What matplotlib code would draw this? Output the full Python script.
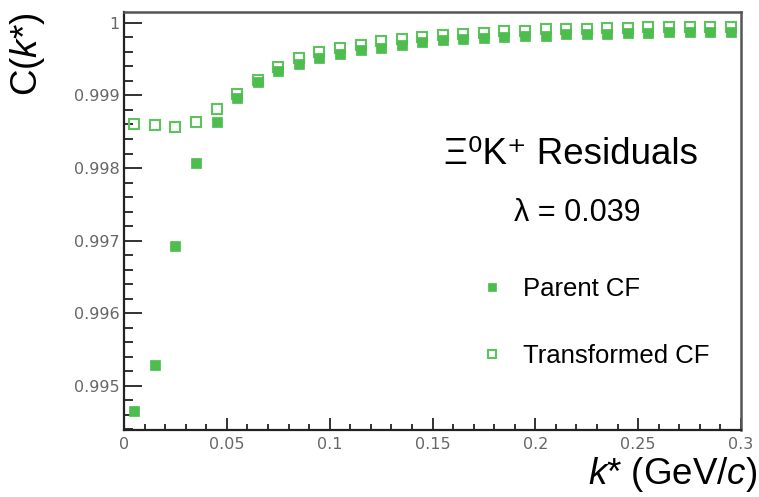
import numpy as np
import matplotlib
matplotlib.use("Agg")
import matplotlib.pyplot as plt
from matplotlib.ticker import MultipleLocator, FixedLocator

plt.rcParams["font.family"] = ["Liberation Sans", "DejaVu Sans"]
plt.rcParams["mathtext.fontset"] = "custom"
plt.rcParams["mathtext.rm"] = "Liberation Sans"
plt.rcParams["mathtext.it"] = "Liberation Sans:italic"

# bin centres in k* (GeV/c)
kstar = [0.005, 0.015, 0.025, 0.035, 0.045, 0.055, 0.065, 0.075, 0.085, 0.095,
         0.105, 0.115, 0.125, 0.135, 0.145, 0.155, 0.165, 0.175, 0.185, 0.195,
         0.205, 0.215, 0.225, 0.235, 0.245, 0.255, 0.265, 0.275, 0.285, 0.295]

parent_cf = [0.99465, 0.99529, 0.99693, 0.99807, 0.99863, 0.99897, 0.99919, 0.99934,
             0.99944, 0.99951, 0.99957, 0.99963, 0.99966, 0.99970, 0.99973, 0.99976,
             0.99978, 0.99979, 0.99981, 0.99982, 0.99982, 0.99984, 0.99984, 0.99985,
             0.99986, 0.99986, 0.99987, 0.99987, 0.99988, 0.99988]

transformed_cf = [0.99860, 0.99859, 0.99856, 0.99863, 0.99882, 0.99902, 0.99921, 0.99939,
                  0.99951, 0.99960, 0.99966, 0.99970, 0.99975, 0.99978, 0.99981, 0.99983,
                  0.99985, 0.99986, 0.99989, 0.99989, 0.99991, 0.99992, 0.99992, 0.99993,
                  0.99993, 0.99994, 0.99994, 0.99994, 0.99995, 0.99995]

x_ticks = [0, 0.05, 0.1, 0.15, 0.2, 0.25, 0.3]
x_tick_labels = ["0", "0.05", "0.1", "0.15", "0.2", "0.25", "0.3"]
y_ticks = [0.995, 0.996, 0.997, 0.998, 0.999, 1.0]
y_tick_labels = ["0.995", "0.996", "0.997", "0.998", "0.999", "1"]

pair_label = "\u039e\u2070K\u207a Residuals"
lambda_label = "\u03bb = 0.039"

fig = plt.figure(figsize=(7.59, 4.97), dpi=100)
ax = fig.add_axes([124 / 759, 1 - 430 / 497, 617 / 759, 418 / 497])

fill_green = "#4dbd4d"
open_green = "#5cc45c"

ax.plot(kstar, transformed_cf, ls="none", marker="s", ms=7.5, mfc="none",
        mec=open_green, mew=1.5, label="Transformed CF", zorder=3)
ax.plot(kstar, parent_cf, ls="none", marker="s", ms=6.8, mfc=fill_green,
        mec=fill_green, mew=0.5, label="Parent CF", zorder=4)

ax.set_xlim(0, 0.3)
ax.set_ylim(0.99439, 1.00015)

ax.xaxis.set_major_locator(FixedLocator(x_ticks))
ax.set_xticklabels(x_tick_labels)
ax.xaxis.set_minor_locator(MultipleLocator(0.01))
ax.yaxis.set_major_locator(FixedLocator(y_ticks))
ax.set_yticklabels(y_tick_labels)
ax.yaxis.set_minor_locator(MultipleLocator(0.0002))

ax.tick_params(axis="both", which="both", direction="in", colors="#222222",
               labelcolor="#666666", labelsize=11.5, width=1.3)
ax.tick_params(axis="y", which="major", length=13, pad=3)
ax.tick_params(axis="y", which="minor", length=6.5)
ax.tick_params(axis="x", which="major", length=8.5, pad=5)
ax.tick_params(axis="x", which="minor", length=4)
for lab in ax.get_xticklabels() + ax.get_yticklabels():
    lab.set_family("DejaVu Sans")

for side in ["left", "bottom"]:
    ax.spines[side].set_color("#222222")
    ax.spines[side].set_linewidth(1.6)
for side in ["top", "right"]:
    ax.spines[side].set_color("#555555")
    ax.spines[side].set_linewidth(1.8)

ax.set_ylabel("C($k$*)", fontsize=26.5)
ax.yaxis.set_label_coords(-0.125, 0.9)
ax.set_xlabel("$k$* (GeV/$c$)", fontsize=26.5, loc="right")
ax.xaxis.set_label_coords(1.026, -0.06)

ax.text(0.725, 0.658, pair_label, transform=ax.transAxes, ha="center",
        va="center", fontsize=26.5)
ax.text(0.735, 0.519, lambda_label, transform=ax.transAxes, ha="center",
        va="center", fontsize=22)

handles, labels = ax.get_legend_handles_labels()
leg = ax.legend(handles[::-1], labels[::-1], loc="center left",
                bbox_to_anchor=(0.538, 0.257), frameon=False, fontsize=18.5,
                handlelength=1.0, handletextpad=0.7, labelspacing=1.7,
                markerscale=0.75)

fig.savefig("out.png", dpi=100)
